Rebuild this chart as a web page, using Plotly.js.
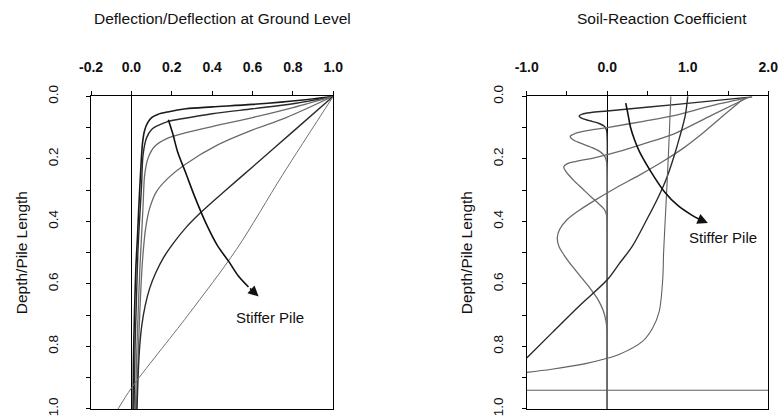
<!DOCTYPE html>
<html>
<head>
<meta charset="utf-8">
<script src="https://cdn.plot.ly/plotly-3.0.1.min.js"></script>
<style>html,body{margin:0;padding:0;background:#fff;}#chart{width:778px;height:419px;}</style>
</head>
<body>
<div id="chart"></div>
<script>
// ---------- Left panel: normalized deflection vs depth ----------
const defX1 = [1.0, 0.85, 0.60, 0.40, 0.27, 0.18, 0.13, 0.10, 0.08, 0.065, 0.055, 0.045, 0.037, 0.030, 0.022, 0.015, 0.010, 0.008];
const defD1 = [0.0, 0.012, 0.026, 0.034, 0.040, 0.050, 0.058, 0.068, 0.085, 0.11, 0.15, 0.25, 0.35, 0.45, 0.55, 0.70, 0.85, 1.0];
const defX2 = [1.0, 0.8, 0.6, 0.4, 0.25, 0.183, 0.133, 0.10, 0.075, 0.058, 0.050, 0.040, 0.032, 0.025, 0.018, 0.013];
const defD2 = [0.0, 0.024, 0.040, 0.056, 0.072, 0.080, 0.093, 0.106, 0.133, 0.186, 0.29, 0.40, 0.50, 0.65, 0.80, 1.0];
const defX3 = [1.0, 0.8, 0.6, 0.4, 0.266, 0.183, 0.116, 0.083, 0.066, 0.058, 0.050, 0.042, 0.033, 0.025, 0.020];
const defD3 = [0.0, 0.036, 0.068, 0.097, 0.117, 0.133, 0.160, 0.197, 0.25, 0.346, 0.45, 0.55, 0.70, 0.85, 1.0];
const defX4 = [1.0, 0.764, 0.598, 0.432, 0.266, 0.183, 0.125, 0.091, 0.071, 0.058, 0.048, 0.038, 0.030, 0.025];
const defD4 = [0.0, 0.069, 0.108, 0.154, 0.218, 0.261, 0.304, 0.357, 0.42, 0.50, 0.60, 0.75, 0.90, 1.0];
const defX5 = [1.0, 0.8, 0.6, 0.45, 0.35, 0.27, 0.21, 0.16, 0.12, 0.09, 0.068, 0.052, 0.041, 0.033, 0.028];
const defD5 = [0.0, 0.113, 0.226, 0.31, 0.368, 0.42, 0.468, 0.515, 0.565, 0.615, 0.67, 0.73, 0.80, 0.90, 1.0];
const defX6 = [1.0, 0.75, 0.52, 0.28, 0.0, -0.066];
const defD6 = [0.0, 0.25, 0.49, 0.70, 0.933, 1.0];

// ---------- Right panel: soil-reaction coefficient vs depth ----------
const soilX1 = [1.80, 0.9, 0.0, -0.20, -0.31, -0.35, -0.32, -0.22, -0.10, -0.03, -0.008, 0.0, 0.0, 0.0, 0.0, 0.0];
const soilD1 = [0.002, 0.025, 0.047, 0.052, 0.057, 0.063, 0.070, 0.078, 0.087, 0.097, 0.11, 0.14, 0.25, 0.45, 0.7, 1.0];
const soilX2 = [1.78, 1.3, 0.83, 0.45, 0.0, -0.25, -0.40, -0.46, -0.43, -0.33, -0.20, -0.09, -0.03, -0.008, 0.0, 0.0, 0.0, 0.0];
const soilD2 = [0.003, 0.030, 0.062, 0.080, 0.100, 0.110, 0.119, 0.128, 0.138, 0.150, 0.163, 0.177, 0.192, 0.21, 0.25, 0.4, 0.7, 1.0];
const soilX3 = [1.75, 1.3, 0.83, 0.45, 0.15, -0.15, -0.38, -0.50, -0.54, -0.51, -0.42, -0.31, -0.20, -0.10, -0.035, -0.008, 0.0, 0.0, 0.0];
const soilD3 = [0.004, 0.06, 0.12, 0.152, 0.176, 0.196, 0.208, 0.216, 0.226, 0.242, 0.268, 0.295, 0.322, 0.345, 0.362, 0.38, 0.42, 0.7, 1.0];
const soilX4 = [1.70, 1.45, 1.2, 0.95, 0.70, 0.40, 0.10, -0.15, -0.35, -0.50, -0.59, -0.62, -0.60, -0.53, -0.43, -0.32, -0.21, -0.12, -0.05, -0.015, 0.0, 0.0, 0.0];
const soilD4 = [0.006, 0.06, 0.115, 0.165, 0.207, 0.252, 0.294, 0.332, 0.365, 0.395, 0.425, 0.452, 0.48, 0.51, 0.545, 0.58, 0.615, 0.648, 0.685, 0.72, 0.76, 0.85, 1.0];
const soilX5 = [1.0, 0.97, 0.90, 0.82, 0.73, 0.62, 0.50, 0.31, 0.15, 0.0, -0.354, -0.68, -1.0];
const soilD5 = [0.0, 0.06, 0.13, 0.20, 0.267, 0.33, 0.39, 0.48, 0.535, 0.587, 0.672, 0.755, 0.837];
const soilX6 = [0.79, 0.785, 0.76, 0.73, 0.70, 0.69, 0.646, 0.5625, 0.4375, 0.146, 0.0, -0.27, -0.69, -1.0];
const soilD6 = [0.0, 0.03, 0.186, 0.346, 0.50, 0.582, 0.688, 0.742, 0.784, 0.826, 0.838, 0.855, 0.873, 0.883];
const soilX7 = [-1.0, 2.0];
const soilD7 = [0.94, 0.94];

// ---------- "Stiffer Pile" arrows ----------
const arrowDefX = [0.183, 0.205, 0.23, 0.266, 0.316, 0.365, 0.424, 0.482, 0.53, 0.58];
const arrowDefD = [0.075, 0.12, 0.18, 0.24, 0.325, 0.40, 0.475, 0.528, 0.575, 0.61];
const arrowDefTip = [0.63, 0.64];
const arrowSoilX = [0.23, 0.26, 0.29, 0.34, 0.40, 0.54, 0.71, 0.88, 1.05, 1.15];
const arrowSoilD = [0.022, 0.06, 0.10, 0.14, 0.177, 0.24, 0.305, 0.35, 0.38, 0.394];
const arrowSoilTip = [1.25, 0.405];

// ---------- Ticks ----------
const defTickVals = [-0.2, 0.0, 0.2, 0.4, 0.6, 0.8, 1.0];
const defTickText = ['-0.2', '0.0', '0.2', '0.4', '0.6', '0.8', '1.0'];
const soilTickVals = [-1.0, 0.0, 1.0, 2.0];
const soilTickText = ['-1.0', '0.0', '1.0', '2.0'];
const depthTickVals = [0.0, 0.2, 0.4, 0.6, 0.8, 1.0];
const depthTickText = ['0.0', '0.2', '0.4', '0.6', '0.8', '1.0'];

const FONT = 'Liberation Sans, Arial, Helvetica, sans-serif';

function curve(x, y, xa, ya, color, width, shape) {
  return {x: x, y: y, xaxis: xa, yaxis: ya, type: 'scatter', mode: 'lines',
    line: {color: color, width: width, shape: shape || 'spline', smoothing: 0.9},
    hoverinfo: 'skip', showlegend: false};
}

const traces = [
  curve(defX1, defD1, 'x', 'y', '#1a1a1a', 1.6),
  curve(defX2, defD2, 'x', 'y', '#2a2a2a', 1.4),
  curve(defX3, defD3, 'x', 'y', '#6a6a6a', 1.3),
  curve(defX4, defD4, 'x', 'y', '#6a6a6a', 1.3),
  curve(defX5, defD5, 'x', 'y', '#2a2a2a', 1.4),
  curve(defX6, defD6, 'x', 'y', '#707070', 1.0),
  curve(arrowDefX, arrowDefD, 'x', 'y', '#111', 1.6),
  curve(soilX1, soilD1, 'x2', 'y2', '#2a2a2a', 1.4),
  curve(soilX2, soilD2, 'x2', 'y2', '#6a6a6a', 1.3),
  curve(soilX3, soilD3, 'x2', 'y2', '#6a6a6a', 1.3),
  curve(soilX4, soilD4, 'x2', 'y2', '#6a6a6a', 1.3),
  curve(soilX5, soilD5, 'x2', 'y2', '#2a2a2a', 1.4),
  curve(soilX6, soilD6, 'x2', 'y2', '#606060', 1.1),
  curve(soilX7, soilD7, 'x2', 'y2', '#606060', 1.1, 'linear'),
  curve(arrowSoilX, arrowSoilD, 'x2', 'y2', '#111', 1.6)
];

const xCommon = {
  side: 'top', showgrid: false, showline: true, mirror: true, linecolor: '#000', linewidth: 1,
  zeroline: true, zerolinecolor: '#000', zerolinewidth: 1.2,
  ticks: 'outside', ticklen: 4, tickcolor: '#000', tickwidth: 1,
  tickmode: 'array', ticklabelstandoff: 14, ticklabeloverflow: 'allow',
  tickfont: {family: FONT, size: 14, color: '#111', weight: 'bold'}
};
const yCommon = {
  range: [1.0, 0.0], showgrid: false, showline: true, mirror: true, linecolor: '#000', linewidth: 1,
  zeroline: false, ticks: 'outside', ticklen: 4, tickcolor: '#000', tickwidth: 1,
  tickmode: 'array', tickvals: depthTickVals, ticktext: depthTickText, tickangle: -90,
  ticklabeloverflow: 'allow',
  minor: {tickmode: 'linear', tick0: 0, dtick: 0.1, ticks: 'outside', ticklen: 4, tickcolor: '#000'},
  tickfont: {family: FONT, size: 13.5, color: '#111'}
};

const layout = {
  width: 778, height: 419, margin: {l: 0, r: 0, t: 0, b: 0},
  paper_bgcolor: '#fff', plot_bgcolor: '#fff', showlegend: false,
  font: {family: FONT, color: '#111'},
  xaxis: Object.assign({}, xCommon, {domain: [0.1170, 0.4284], anchor: 'y', range: [-0.2, 1.0],
    tickvals: defTickVals, ticktext: defTickText}),
  xaxis2: Object.assign({}, xCommon, {domain: [0.6770, 0.9875], anchor: 'y2', range: [-1.0, 2.0],
    tickvals: soilTickVals, ticktext: soilTickText,
    minor: {tickmode: 'linear', tick0: 0, dtick: 0.5, ticks: 'outside', ticklen: 4, tickcolor: '#000'}}),
  yaxis: Object.assign({}, yCommon, {domain: [0.0239, 0.7702], anchor: 'x', ticklabelstandoff: 23,
    title: {text: 'Depth/Pile Length', standoff: 14, font: {family: FONT, size: 15.5, color: '#111'}}}),
  yaxis2: Object.assign({}, yCommon, {domain: [0.0239, 0.7702], anchor: 'x2', ticklabelstandoff: 13,
    title: {text: 'Depth/Pile Length', standoff: 14, font: {family: FONT, size: 15.5, color: '#111'}}}),
  annotations: [
    {text: 'Deflection/Deflection at Ground Level', xref: 'paper', yref: 'paper', x: 222/778, y: 1 - 18/419,
      showarrow: false, xanchor: 'center', yanchor: 'middle', font: {family: FONT, size: 15.5, color: '#111'}},
    {text: 'Soil-Reaction Coefficient', xref: 'paper', yref: 'paper', x: 661.7/778, y: 1 - 18/419,
      showarrow: false, xanchor: 'center', yanchor: 'middle', font: {family: FONT, size: 15.5, color: '#111'}},
    {text: 'Stiffer Pile', xref: 'x', yref: 'y', x: 0.688, y: 0.707, showarrow: false,
      font: {family: FONT, size: 15, color: '#111'}},
    {text: 'Stiffer Pile', xref: 'x2', yref: 'y2', x: 1.44, y: 0.453, showarrow: false,
      font: {family: FONT, size: 15, color: '#111'}},
    {text: '', xref: 'x', yref: 'y', x: arrowDefTip[0], y: arrowDefTip[1],
      axref: 'x', ayref: 'y', ax: arrowDefX[arrowDefX.length - 1], ay: arrowDefD[arrowDefD.length - 1],
      showarrow: true, arrowhead: 2, arrowsize: 1.3, arrowwidth: 1.6, arrowcolor: '#111', standoff: 0},
    {text: '', xref: 'x2', yref: 'y2', x: arrowSoilTip[0], y: arrowSoilTip[1],
      axref: 'x2', ayref: 'y2', ax: arrowSoilX[arrowSoilX.length - 1], ay: arrowSoilD[arrowSoilD.length - 1],
      showarrow: true, arrowhead: 2, arrowsize: 1.3, arrowwidth: 1.6, arrowcolor: '#111', standoff: 0}
  ]
};

Plotly.newPlot('chart', traces, layout, {displayModeBar: false, staticPlot: true});
</script>
</body>
</html>
